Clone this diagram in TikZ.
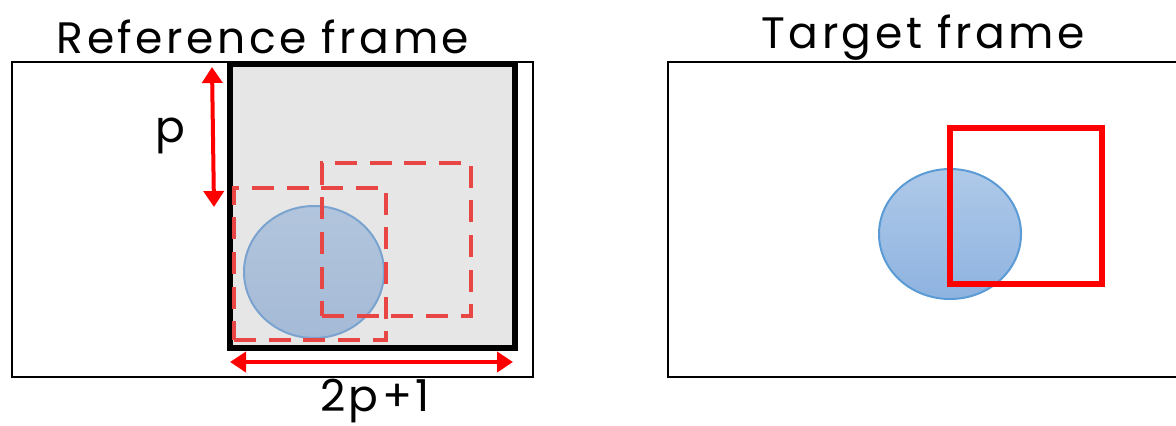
\documentclass[tikz,border=0pt]{standalone}
\usepackage{fontspec}
\setmainfont{Poppins}[LetterSpace=8]
\usetikzlibrary{arrows.meta,shapes.geometric}
\definecolor{dashred}{HTML}{E84545}
\definecolor{boxgray}{HTML}{E6E6E6}
\definecolor{blueL}{HTML}{7BA3CF}
\definecolor{blueR}{HTML}{5B9BD5}
\definecolor{fillLt}{HTML}{B2C5DD}
\definecolor{fillLb}{HTML}{A5BAD6}
\definecolor{fillRt}{HTML}{AFC9E8}
\definecolor{fillRb}{HTML}{8EB3E0}
\tikzset{
  frame/.style={draw=black,line width=1.5pt,inner sep=0pt},
  graybox/.style={draw=black,fill=boxgray,line width=3.8pt,inner sep=0pt},
  dashbox/.style={draw=dashred,line width=3.6pt,dash pattern=on 16.5pt off 9.5pt,inner sep=0pt},
  solidbox/.style={draw=red,line width=5.2pt,inner sep=0pt},
  blobL/.style={draw=blueL,line width=1.5pt,top color=fillLt,bottom color=fillLb,ellipse,inner sep=0pt},
  blobR/.style={draw=blueR,line width=1.5pt,top color=fillRt,bottom color=fillRb,ellipse,inner sep=0pt},
  dim/.style={draw=red,line width=3pt,{Triangle[length=12pt,width=15pt]}-{Triangle[length=12pt,width=15pt]}},
  lab/.style={font=\fontsize{33}{38}\selectfont,inner sep=0pt,text=black,anchor=base}
}
\begin{document}
\begin{tikzpicture}[x=0.75pt,y=-0.75pt]
\useasboundingbox (0,0) rectangle (1176,425);
% left
\node[frame,minimum width=521*0.75pt,minimum height=315*0.75pt] (lf) at (272.5,219.5) {};
\node[graybox,minimum width=285*0.75pt,minimum height=284*0.75pt] (gb) at (372.5,206) {};
\node[blobL,minimum width=140*0.75pt,minimum height=132*0.75pt] (cl) at (314,272) {};
\node[dashbox,minimum width=152*0.75pt,minimum height=152*0.75pt] (d1) at (310,264) {};
\node[dashbox,minimum width=149*0.75pt,minimum height=153*0.75pt] (d2) at (396.5,239.5) {};
\coordinate (v1) at (212,67);
\coordinate (v2) at (214,207);
\draw[dim] (v1) -- (v2);
\coordinate (h1) at (230,362);
\coordinate (h2) at (513,362);
\draw[dim] (h1) -- (h2);
\node[lab] (tl) at (263,53) {Reference frame};
\node[lab] (pl) at (170,142) {p};
\node[lab] (ql) at (375,411) {2p+1};
% right
\node[frame,minimum width=530*0.75pt,minimum height=315*0.75pt] (rf) at (933,219.5) {};
\node[blobR,minimum width=142*0.75pt,minimum height=130*0.75pt] (cr) at (950,234) {};
\node[solidbox,minimum width=152*0.75pt,minimum height=156*0.75pt] (sq) at (1026,206) {};
\node[lab] (tr) at (923,48) {Target frame};
\end{tikzpicture}
\end{document}
